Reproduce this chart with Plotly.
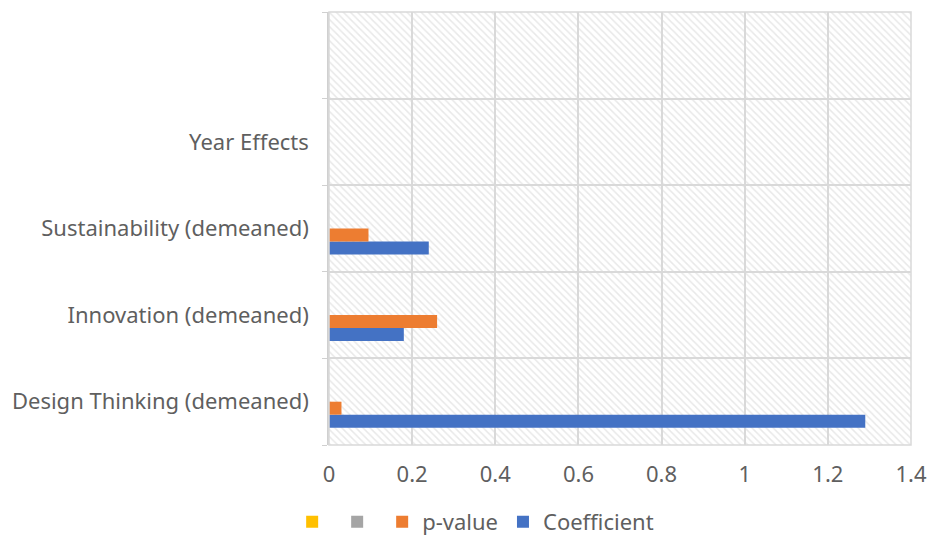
import plotly.graph_objects as go

categories = ["Design Thinking (demeaned)", "Innovation (demeaned)", "Sustainability (demeaned)", "Year Effects", " "]
coefficient = [1.29, 0.18, 0.24, None, None]
p_value = [0.03, 0.26, 0.095, None, None]
series3 = [None, None, None, None, None]
series4 = [None, None, None, None, None]
x_ticks = [0, 0.2, 0.4, 0.6, 0.8, 1, 1.2, 1.4]
x_tick_labels = ["0", "0.2", "0.4", "0.6", "0.8", "1", "1.2", "1.4"]

FONT = "Noto Sans"
TXT = "#5f5f5f"
GRID = "#d9d9d9"
FS = 22

fig = go.Figure()

# hatched plot-area background on its own subplot (drawn underneath)
fig.add_trace(go.Bar(x=[0.5], y=[1], width=[1], xaxis="x", yaxis="y",
                     marker=dict(color="white", line=dict(width=0),
                                 pattern=dict(shape="\\", fgcolor="#d2d2d2", bgcolor="white",
                                              size=5, solidity=0.3)),
                     showlegend=False, hoverinfo="skip"))

traces = [
    ("Coefficient", coefficient, "#4472C4"),
    ("p-value", p_value, "#ED7D31"),
    ("", series3, "#A5A5A5"),
    ("", series4, "#FFC000"),
]
for name, vals, col in traces:
    fig.add_trace(go.Bar(x=vals, y=categories, name=name, orientation="h",
                         marker=dict(color=col, line=dict(width=0)),
                         xaxis="x2", yaxis="y2", showlegend=True))

fig.update_layout(
    width=941, height=539,
    margin=dict(l=319, r=38, t=4, b=102),
    paper_bgcolor="white", plot_bgcolor="rgba(0,0,0,0)",
    barmode="group", bargap=0.4, bargroupgap=0,
    font=dict(family=FONT, size=FS, color=TXT),
    xaxis=dict(domain=[0, 1], range=[0, 1], visible=False, fixedrange=True),
    yaxis=dict(domain=[0, 1], range=[0, 1], visible=False, fixedrange=True),
    xaxis2=dict(domain=[0, 1], anchor="y2", range=[0, 1.4], tickvals=x_ticks, ticktext=x_tick_labels,
                showgrid=True, gridcolor=GRID, gridwidth=1.5, zeroline=False,
                showline=False, ticks="", ticklabelstandoff=14,
                tickfont=dict(family=FONT, size=FS, color=TXT)),
    yaxis2=dict(domain=[0, 1], anchor="x2", type="category", categoryorder="array",
                categoryarray=categories, tickson="boundaries", showgrid=True, gridcolor=GRID,
                gridwidth=1.5, showline=True, linecolor="#d0d0d0", linewidth=1.5,
                ticks="outside", ticklen=5, tickcolor="#d0d0d0",
                ticklabelstandoff=14,
                tickfont=dict(family=FONT, size=FS, color=TXT)),
    legend=dict(orientation="h", traceorder="reversed", x=0.252, xanchor="center",
                y=-0.178, yanchor="middle", font=dict(family=FONT, size=FS, color=TXT),
                itemwidth=30, bgcolor="rgba(0,0,0,0)"),
)
fig.add_shape(type="rect", xref="x domain", yref="y domain", x0=0, x1=1, y0=0, y1=1,
              line=dict(color=GRID, width=1.5), layer="above")

fig.write_html("out.html")
